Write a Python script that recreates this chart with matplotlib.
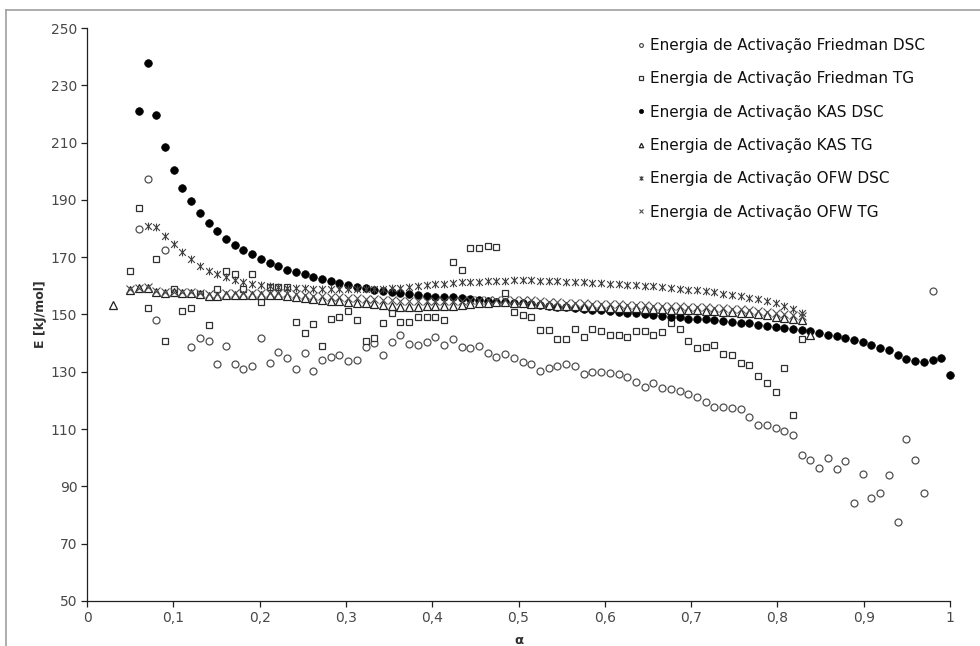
import numpy as np
import matplotlib
matplotlib.use('Agg')
import matplotlib.pyplot as plt
from matplotlib.path import Path
from matplotlib.lines import Line2D

plt.rcParams['font.family'] = ['DejaVu Sans']

nan = np.nan

# activation energies in kJ/mol, one value per conversion step of 0.01
# (first value of each series sits at the alpha given in the *_start name)
friedman_dsc_start = 0.06
friedman_dsc = [179.7, 197.4, 148.0, 172.6, nan, nan, 138.7, 141.7, 140.8, 132.7,
                139.0, 132.6, 131.1, 132.0, 141.8, 133.2, 136.8, 134.7, 131.1, 136.4,
                130.4, 134.0, 135.0, 135.9, 133.7, 134.1, 138.7, 139.9, 135.8, 140.5,
                142.7, 139.8, 139.2, 140.3, 142.0, 139.3, 141.3, 138.6, 138.4, 138.9,
                136.6, 135.2, 136.1, 134.7, 133.4, 132.7, 130.4, 131.4, 132.0, 132.7,
                132.0, 129.4, 129.9, 129.9, 129.7, 129.2, 128.1, 126.4, 124.8, 126.2,
                124.2, 123.9, 123.4, 122.2, 121.3, 119.5, 117.8, 117.8, 117.5, 117.1,
                114.3, 111.6, 111.3, 110.4, 109.4, 107.9, 100.8, 99.1, 96.3, 99.9,
                96.2, 98.8, 84.2, 94.3, 86.0, 87.6, 94.0, 77.7, 106.4, 99.2,
                87.8, 158.3]

friedman_tg_start = 0.05
friedman_tg = [165.2, 187.0, 152.1, 169.5, 140.6, 158.9, 151.3, 152.3, 157.3, 146.3,
               158.8, 165.2, 164.1, 158.8, 164.1, 154.4, 159.7, 159.5, 159.5, 147.3,
               143.4, 146.7, 139.0, 148.3, 149.2, 151.2, 148.0, 140.8, 141.7, 146.9,
               150.4, 147.3, 147.3, 149.2, 149.0, 149.0, 148.0, 168.2, 165.5, 173.2,
               173.2, 173.9, 173.6, 157.6, 150.7, 149.9, 149.2, 144.6, 144.6, 141.5,
               141.3, 145.1, 142.1, 144.9, 144.3, 142.7, 142.7, 142.0, 144.2, 144.2,
               142.8, 144.0, 146.9, 145.1, 140.8, 138.4, 138.7, 139.3, 136.2, 135.8,
               133.1, 132.3, 128.6, 126.0, 123.0, 131.4, 114.8, 141.5]

kas_dsc_start = 0.06
kas_dsc = [220.9, 237.7, 219.8, 208.5, 200.5, 194.3, 189.5, 185.5, 182.1, 179.0,
           176.4, 174.3, 172.5, 171.0, 169.4, 168.0, 166.8, 165.7, 164.9, 164.0,
           163.1, 162.4, 161.6, 160.9, 160.2, 159.6, 159.1, 158.6, 158.3, 157.9,
           157.6, 157.2, 156.8, 156.4, 156.2, 156.1, 156.0, 155.6, 155.3, 155.0,
           154.7, 154.4, 154.2, 154.1, 153.9, 153.5, 153.4, 153.0, 152.7, 152.5,
           152.2, 151.9, 151.6, 151.5, 151.3, 150.9, 150.5, 150.4, 150.1, 149.8,
           149.5, 149.2, 149.0, 148.5, 148.4, 148.3, 148.0, 147.7, 147.5, 147.2,
           146.9, 146.5, 146.1, 145.7, 145.4, 144.9, 144.7, 144.2, 143.6, 142.9,
           142.5, 141.9, 141.1, 140.3, 139.2, 138.3, 137.5, 135.8, 134.5, 133.6,
           133.3, 134.1, 134.9, 128.8]

kas_tg_start = 0.03
kas_tg = [153.3, nan, 158.5, 159.1, 159.1, 157.7, 157.4, 157.7, 157.4, 157.4,
          157.0, 156.5, 156.5, 156.8, 156.8, 156.8, 156.9, 156.8, 156.8, 156.8,
          156.5, 156.0, 155.6, 155.3, 155.0, 154.8, 154.8, 154.4, 154.1, 154.1,
          153.7, 153.4, 152.9, 152.7, 152.7, 152.7, 152.8, 152.9, 152.8, 152.9,
          153.3, 153.6, 153.9, 154.1, 154.2, 154.2, 154.1, 153.9, 153.7, 153.5,
          153.3, 153.1, 152.9, 152.8, 152.7, 152.6, 152.5, 152.4, 152.3, 152.2,
          152.1, 152.0, 151.9, 151.8, 151.7, 151.6, 151.5, 151.4, 151.3, 151.1,
          151.0, 150.8, 150.6, 150.4, 150.1, 149.8, 149.3, 148.8, 148.4, 148.0,
          143.0]

ofw_dsc_start = 0.07
ofw_dsc = [180.9, 180.4, 177.5, 174.5, 171.7, 169.3, 167.1, 165.2, 164.3, 163.2,
           162.0, 161.4, 160.8, 160.3, 159.9, 159.6, 159.4, 159.2, 159.1, 159.0,
           158.9, 158.9, 158.8, 158.8, 158.8, 158.8, 158.9, 159.0, 159.2, 159.4,
           159.6, 159.9, 160.2, 160.5, 160.8, 161.0, 161.2, 161.4, 161.5, 161.6,
           161.7, 161.8, 161.9, 161.9, 161.9, 161.8, 161.7, 161.6, 161.5, 161.3,
           161.2, 161.0, 160.9, 160.8, 160.6, 160.4, 160.2, 160.0, 159.8, 159.6,
           159.3, 159.0, 158.7, 158.4, 158.1, 157.7, 157.3, 156.9, 156.4, 155.9,
           155.4, 154.8, 154.1, 153.0, 151.8, 150.6]

ofw_tg_start = 0.05
ofw_tg = [158.8, 159.3, 159.5, 158.3, 158.0, 158.0, 157.8, 157.7, 157.5, 157.3,
          157.3, 157.4, 157.5, 157.6, 157.6, 157.6, 157.6, 157.6, 157.4, 157.1,
          156.8, 156.5, 156.3, 156.1, 156.0, 155.8, 155.6, 155.5, 155.3, 155.1,
          154.9, 154.8, 154.7, 154.6, 154.6, 154.6, 154.6, 154.7, 154.8, 154.9,
          155.0, 155.1, 155.2, 155.2, 155.1, 155.0, 154.9, 154.7, 154.5, 154.3,
          154.1, 154.0, 153.9, 153.8, 153.7, 153.6, 153.5, 153.4, 153.3, 153.2,
          153.1, 153.0, 152.9, 152.8, 152.7, 152.6, 152.5, 152.3, 152.2, 152.0,
          151.8, 151.6, 151.3, 151.0, 150.6, 150.2, 149.8, 149.4]

labels = ['Energia de Activação Friedman DSC',
          'Energia de Activação Friedman TG',
          'Energia de Activação KAS DSC',
          'Energia de Activação KAS TG',
          'Energia de Activação OFW DSC',
          'Energia de Activação OFW TG']

x_ticks = [0, 0.1, 0.2, 0.3, 0.4, 0.5, 0.6, 0.7, 0.8, 0.9, 1.0]
x_ticklabels = ['0', '0,1', '0,2', '0,3', '0,4', '0,5', '0,6', '0,7', '0,8', '0,9', '1']
y_ticks = [50, 70, 90, 110, 130, 150, 170, 190, 210, 230, 250]


def alpha_axis(start, n):
    # the exported conversion points spread 0.06..1.0 over 94 samples
    step = (1.0 - 0.06) / 93
    first = round((start - 0.06) / 0.01)
    return 0.06 + step * (first + np.arange(n))


# excel style "star": a cross with a vertical bar through it
star = Path([(-1, -1), (1, 1), (-1, 1), (1, -1), (0, -1.15), (0, 1.15)],
            [Path.MOVETO, Path.LINETO, Path.MOVETO, Path.LINETO, Path.MOVETO, Path.LINETO])

fig = plt.figure(figsize=(9.8, 6.46), dpi=100)
ax = fig.add_axes([87 / 980, 1 - 601 / 646, (950 - 87) / 980, (601 - 28) / 646])

ms = 5.0
series = [
    (friedman_dsc_start, friedman_dsc, dict(marker='o', mfc='white', mec='#505050', mew=0.9, ms=ms)),
    (friedman_tg_start, friedman_tg, dict(marker='s', mfc='white', mec='#303030', mew=0.9, ms=ms)),
    (kas_dsc_start, kas_dsc, dict(marker='o', mfc='black', mec='black', mew=0.5, ms=ms + 0.5)),
    (kas_tg_start, kas_tg, dict(marker='^', mfc='white', mec='#202020', mew=0.9, ms=ms + 0.8)),
    (ofw_dsc_start, ofw_dsc, dict(marker=star, mfc='none', mec='#404040', mew=0.8, ms=ms + 0.6)),
    (ofw_tg_start, ofw_tg, dict(marker='x', mfc='none', mec='#505050', mew=0.8, ms=ms + 0.3)),
]

handles = []
for (start, vals, style), lab in zip(series, labels):
    a = alpha_axis(start, len(vals))
    h, = ax.plot(a, vals, linestyle='none', label=lab, clip_on=False, **style)
    handles.append(h)

ax.set_xlim(0, 1)
ax.set_ylim(50, 250)
ax.set_xticks(x_ticks)
ax.set_xticklabels(x_ticklabels)
ax.set_yticks(y_ticks)

for side in ['top', 'right']:
    ax.spines[side].set_visible(False)
for side in ['left', 'bottom']:
    ax.spines[side].set_color('#202020')
    ax.spines[side].set_linewidth(0.9)
ax.tick_params(direction='out', length=4, width=0.9, color='#202020',
               labelsize=10, labelcolor='#484848', pad=3)

ax.set_ylabel('E [kJ/mol]', fontsize=9, fontweight='bold', color='#303030')
ax.yaxis.set_label_coords(-0.046, 0.5)
ax.set_xlabel('α', fontsize=9.5, fontweight='bold', color='#303030')
ax.xaxis.set_label_coords(0.5, -0.058)

leg = ax.legend(handles=handles, loc='upper left', bbox_to_anchor=(637 / 980, 1 - 38 / 646),
                bbox_transform=fig.transFigure, frameon=False, fontsize=11,
                handlelength=0.5, handletextpad=0.35, labelspacing=1.2,
                markerscale=0.55, borderpad=0, borderaxespad=0)
for t in leg.get_texts():
    t.set_color('#101010')

# chart area border
fig.add_artist(Line2D([6 / 980, 6 / 980], [0, 1 - 10 / 646], color='#a0a0a0', lw=1.2))
fig.add_artist(Line2D([6 / 980, 1], [1 - 10 / 646, 1 - 10 / 646], color='#a0a0a0', lw=1.2))

fig.savefig('out.png', dpi=100)
